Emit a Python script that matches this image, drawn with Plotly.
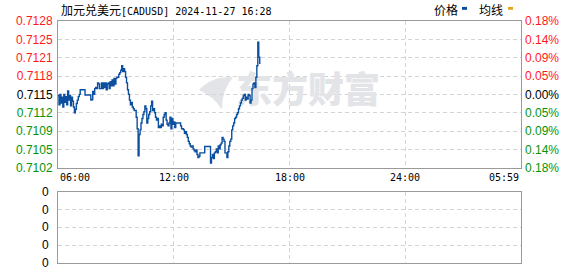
import plotly.graph_objects as go

# ---------------- data ----------------
prices = [
    0.71148, 0.71132, 0.71150, 0.71135, 0.71145, 0.71128, 0.71150, 0.71136,
    0.71146, 0.71132, 0.71156, 0.71140, 0.71148, 0.71130, 0.71145, 0.71138,
    0.71128, 0.71118, 0.71124, 0.71134,
    0.71140, 0.71146, 0.71150,
    0.71158, 0.71158, 0.71158, 0.71158, 0.71158,
    0.71149, 0.71149, 0.71149, 0.71149, 0.71149, 0.71149,
    0.71140, 0.71141,
    0.71155, 0.71150, 0.71160, 0.71162, 0.71160,
    0.71170, 0.71168, 0.71160, 0.71160, 0.71170,
    0.71160, 0.71170, 0.71162, 0.71170, 0.71158,
    0.71168, 0.71170, 0.71160, 0.71172, 0.71165,
    0.71175, 0.71165, 0.71178, 0.71168, 0.71178,
    0.71180, 0.71180, 0.71185,
    0.71188, 0.71192, 0.71200, 0.71190,
    0.71195, 0.71190, 0.71180, 0.71170, 0.71158, 0.71150, 0.71140, 0.71132,
    0.71136, 0.71128, 0.71125, 0.71122, 0.71122, 0.71110, 0.71090, 0.71043,
    0.71080, 0.71088, 0.71100, 0.71108, 0.71115, 0.71120, 0.71130, 0.71125,
    0.71100, 0.71108, 0.71115, 0.71120, 0.71130, 0.71138, 0.71122, 0.71125,
    0.71118, 0.71110, 0.71105, 0.71108, 0.71092, 0.71095, 0.71092, 0.71098,
    0.71095, 0.71110, 0.71115, 0.71118, 0.71105, 0.71098, 0.71095, 0.71100,
    0.71110, 0.71090, 0.71108, 0.71098, 0.71102, 0.71092, 0.71100, 0.71100,
    0.71100, 0.71100, 0.71100, 0.71095, 0.71090, 0.71090, 0.71088, 0.71082,
    0.71085, 0.71080, 0.71075, 0.71068, 0.71064, 0.71060, 0.71058, 0.71060,
    0.71055, 0.71052, 0.71050, 0.71053, 0.71045, 0.71040, 0.71042, 0.71048,
    0.71048, 0.71048, 0.71048, 0.71048, 0.71059, 0.71059, 0.71059, 0.71059,
    0.71059, 0.71059, 0.71030, 0.71040, 0.71045, 0.71038, 0.71048, 0.71050,
    0.71055, 0.71048, 0.71060, 0.71055, 0.71062, 0.71065, 0.71075, 0.71072,
    0.71068, 0.71048, 0.71048, 0.71040, 0.71050, 0.71060, 0.71068, 0.71072,
    0.71088, 0.71095, 0.71100, 0.71108, 0.71110, 0.71115, 0.71118, 0.71125,
    0.71130, 0.71135, 0.71140, 0.71143, 0.71148, 0.71150, 0.71140, 0.71145,
    0.71142, 0.71150, 0.71148, 0.71135, 0.71140, 0.71160, 0.71168, 0.71170,
    0.71162, 0.71180, 0.71200, 0.71241, 0.71215, 0.71203,
]
step_minutes = 3  # sampling interval, minutes after 06:00
times = [i * step_minutes for i in range(len(prices))]

base_price = 0.7115
price_span = 0.00128
left_labels = ["0.7102", "0.7105", "0.7109", "0.7112", "0.7115",
               "0.7118", "0.7121", "0.7125", "0.7128"]
right_labels = ["0.18%", "0.14%", "0.09%", "0.05%", "0.00%",
                "0.05%", "0.09%", "0.14%", "0.18%"]
time_ticks = [0, 360, 720, 1080, 1439]
time_labels = ["06:00", "12:00", "18:00", "24:00", "05:59"]
vol_ticks = [0, 1, 2, 3, 4]
vol_labels = ["0", "0", "0", "0", "0"]

title_cn = "加元兑美元"
title_rest = "[CADUSD] 2024-11-27 16:28"
legend_names = ["价格", "均线"]
watermark = "东方财富"

# ---------------- styling ----------------
W, H = 578, 276
ML, MR, MT, MB = 58, 57, 21, 6
PW, PH = W - ML - MR, H - MT - MB
main_bottom_px = 172
vol_top_px = 196.5

def py(ypx):  # figure pixel -> paper y
    return (H - MB - ypx) / PH

def px(xpx):
    return (xpx - ML) / PW

RED, GREEN, BLACK = "#ff1a1a", "#079307", "#000000"
LINE_BLUE = "#0b4f9e"
GRID = "#d4d4d4"
BORDER = "#9a9a9a"
DASH = "4px,3px"

y_ticks = [base_price + price_span * k / 4 for k in range(-4, 5)]
def colored(labels):
    out = []
    for k, t in enumerate(labels):
        c = GREEN if k < 4 else (BLACK if k == 4 else RED)
        out.append(f'<span style="color:{c}">{t}</span>')
    return out

fig = go.Figure()

# watermark (behind the line)
fig.add_trace(go.Scatter(
    x=[time_ticks[-1] * 0.54], y=[base_price + price_span * 0.01],
    mode="text", text=[watermark], textposition="middle center",
    textfont=dict(family="Noto Sans CJK SC", size=36, color="#e3e4e8", weight=900),
    hoverinfo="skip", showlegend=False, xaxis="x", yaxis="y"))

fig.add_trace(go.Scatter(
    x=times, y=prices, mode="lines",
    line=dict(color=LINE_BLUE, width=1.4, shape="hv"),
    showlegend=False, xaxis="x", yaxis="y"))
# invisible copy to carry the right-hand percentage axis
fig.add_trace(go.Scatter(
    x=times, y=prices, mode="lines", line=dict(width=0, color="rgba(0,0,0,0)"),
    hoverinfo="skip", showlegend=False, xaxis="x", yaxis="y3"))
fig.add_trace(go.Scatter(x=[], y=[], mode="lines", showlegend=False,
                         xaxis="x2", yaxis="y2"))

axis_common = dict(showline=True, mirror=True, linecolor=BORDER, linewidth=1,
                   zeroline=False, ticks="", showgrid=True, gridcolor=GRID,
                   griddash=DASH, gridwidth=1)

fig.update_layout(
    width=W, height=H, margin=dict(l=ML, r=MR, t=MT, b=MB),
    paper_bgcolor="white", plot_bgcolor="white", showlegend=False,
    font=dict(family="Liberation Sans, Arial", size=12, color="#000"),
    xaxis=dict(domain=[0, 1], range=[0, 1439], anchor="y",
               tickvals=time_ticks[1:4], showticklabels=False, **axis_common),
    yaxis=dict(domain=[py(main_bottom_px), 1], range=[base_price - price_span, base_price + price_span],
               tickvals=y_ticks, ticktext=colored(left_labels), anchor="x",
               tickfont=dict(family="Liberation Sans, Arial", size=12),
               ticklabelstandoff=2, **axis_common),
    yaxis3=dict(overlaying="y", side="right", anchor="x",
                range=[base_price - price_span, base_price + price_span],
                tickvals=y_ticks, ticktext=colored(right_labels),
                tickfont=dict(family="Liberation Sans, Arial", size=12),
                showgrid=False, zeroline=False, ticks="", ticklabelstandoff=3),
    xaxis2=dict(domain=[0, 1], range=[0, 1439], anchor="y2",
                tickvals=time_ticks[1:4], showticklabels=False, **axis_common),
    yaxis2=dict(domain=[0, py(vol_top_px)], range=[0, 4], anchor="x2",
                tickvals=vol_ticks, ticktext=vol_labels,
                tickfont=dict(family="Liberation Sans, Arial", size=12),
                ticklabelstandoff=6, **axis_common),
)

annotations = []
# title
annotations.append(dict(
    xref="paper", yref="paper", x=px(59), y=py(9), xanchor="left", yanchor="middle",
    showarrow=False,
    text=f'<span style="font-family:Noto Sans CJK SC;font-size:12px">{title_cn}</span>{title_rest}',
    font=dict(family="DejaVu Sans Mono", size=10, color="#000")))
# legend texts
for name, xl in zip(legend_names, [431.5, 476.5]):
    annotations.append(dict(
        xref="paper", yref="paper", x=px(xl), y=py(9), xanchor="left", yanchor="middle",
        showarrow=False, text=name,
        font=dict(family="Noto Sans CJK SC", size=12, color="#000")))
# time labels
anchors = ["left", "center", "center", "center", "right"]
for t, lab, anc in zip(time_ticks, time_labels, anchors):
    annotations.append(dict(
        xref="x", yref="paper", x=t, y=py(182), xanchor=anc, yanchor="middle",
        showarrow=False, text=lab,
        font=dict(family="DejaVu Sans Mono", size=10, color="#000")))
fig.update_layout(annotations=annotations)

shapes = []
# legend swatches
for (x0, x1), col in zip([(462, 467), (508, 513)], [LINE_BLUE, "#e0a820"]):
    shapes.append(dict(type="rect", xref="paper", yref="paper",
                       x0=px(x0), x1=px(x1), y0=py(9.5), y1=py(6.5),
                       fillcolor=col, line=dict(width=0)))
# watermark swoosh
pts = [(199, 92), (212, 77), (233, 79), (222, 92), (222, 112), (213, 98)]
p = [(px(a), py(b)) for a, b in pts]
path = (f"M {p[0][0]},{p[0][1]} Q {p[1][0]},{p[1][1]} {p[2][0]},{p[2][1]} "
        f"Q {p[3][0]},{p[3][1]} {p[4][0]},{p[4][1]} Q {p[5][0]},{p[5][1]} {p[0][0]},{p[0][1]} Z")
shapes.append(dict(type="path", xref="paper", yref="paper", path=path,
                   fillcolor="#e3e4e8", line=dict(width=0), layer="below"))
fig.update_layout(shapes=shapes)

fig.write_html("out.html")
